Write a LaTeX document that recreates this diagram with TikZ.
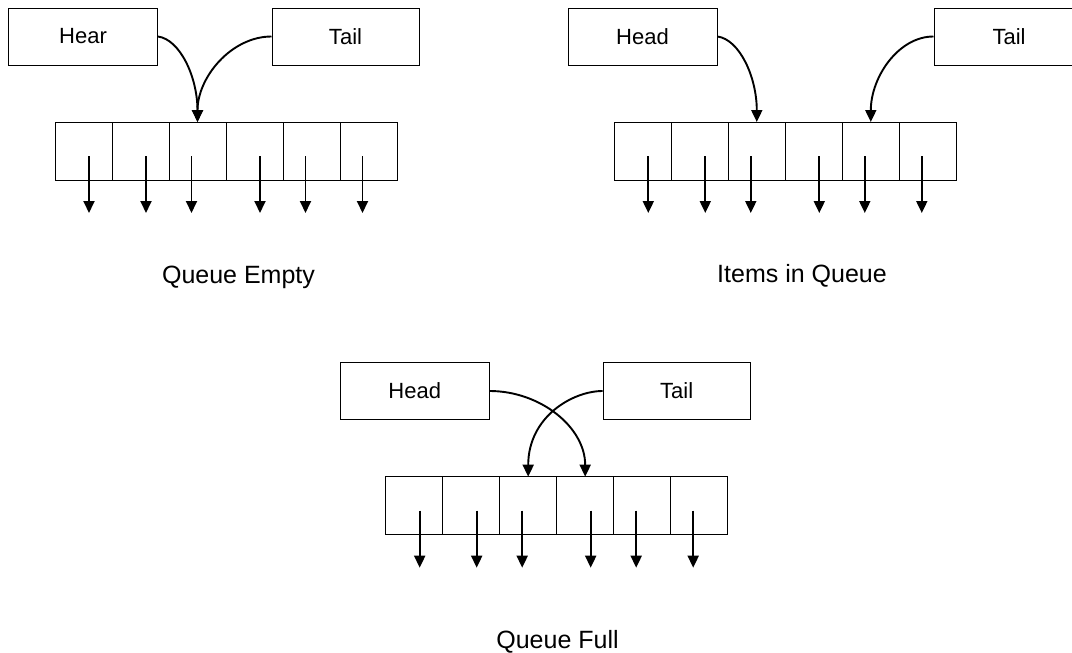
\documentclass[tikz,border=0pt]{standalone}
\usepackage{fontspec}
\setmainfont{Liberation Sans}
\usetikzlibrary{arrows.meta,calc}

% One row of six queue slots, with the pointer arrow hanging from each slot.
% #1 name prefix, #2 left edge, #3 top edge
\newcommand\queuerow[3]{%
  \foreach \i/\off in {1/5.5,2/5.5,3/-6,4/5.5,5/-6,6/-6}{%
    \node[cell, anchor=north west] (#1\i) at ({#2+57*(\i-1)},#3) {};
    \coordinate (#1s\i) at ($(#1\i.center)+(\off,5)$);
    \coordinate (#1e\i) at ($(#1\i.center)+(\off,62)$);
    \draw[link] (#1s\i) -- (#1e\i);
  }%
}

\begin{document}
\begin{tikzpicture}[x=1pt,y=-1pt,
  ptr/.style={draw, line width=1pt, minimum width=149pt, minimum height=57pt,
    inner sep=0pt, font=\fontsize{22}{26}\selectfont},
  cell/.style={draw, line width=1pt, minimum width=57pt, minimum height=58pt,
    inner sep=0pt, outer sep=0pt},
  link/.style={line width=1.9pt, -{Triangle[length=12pt,width=11pt]}},
  caption/.style={anchor=base, inner sep=0pt, font=\fontsize{25}{30}\selectfont}]
\useasboundingbox (0,0) rectangle (1072,653);
\clip (0,0) rectangle (1072,653);

% ---- empty queue ----
\node[ptr] (h1) at (83,36.5) {Hear};
\node[ptr, minimum width=147pt] (t1) at (345.5,36.5) {Tail};
\queuerow{a}{55}{122}
\draw[link] (h1.east) .. controls +(22,3) and +(0,-45) .. (a3.north);
\draw[link] (t1.west) .. controls +(-40,0) and +(0,-45) .. (a3.north);
\node[caption] (cap1) at (238.5,283) {Queue Empty};

% ---- queue holding items ----
\node[ptr] (h2) at (642.5,36.5) {Head};
\node[ptr, minimum width=150pt] (t2) at (1009,36.5) {Tail};
\queuerow{b}{614.3}{122}
\draw[link] (h2.east) .. controls +(22,3) and +(0,-45) .. (b3.north);
\draw[link] (t2.west) .. controls +(-35,0) and +(0,-45) .. (b5.north);
\node[caption] (cap2) at (802,282) {Items in Queue};

% ---- full queue ----
\node[ptr] (h3) at (414.7,391) {Head};
\node[ptr, minimum width=147pt] (t3) at (676.7,391) {Tail};
\queuerow{c}{385.7}{476.7}
\draw[link] (h3.east) .. controls +(50,0) and +(0,-50) .. (c4.north);
\draw[link] (t3.west) .. controls +(-30,0) and +(0,-60) .. (c3.north);
\node[caption] (cap3) at (557.5,648) {Queue Full};
\end{tikzpicture}
\end{document}
